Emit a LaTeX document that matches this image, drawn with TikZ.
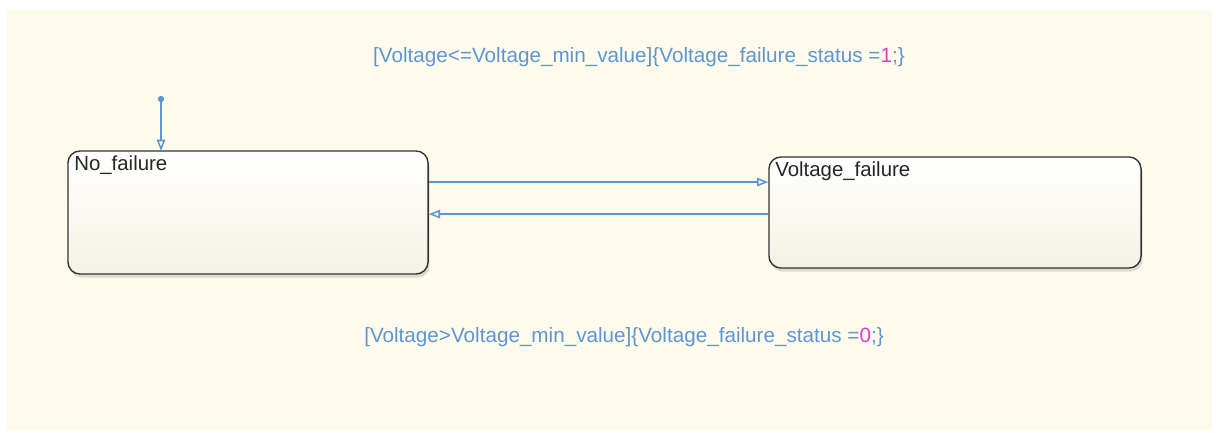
\documentclass[tikz,border=0pt]{standalone}
\usepackage{fontspec}
\setmainfont{Liberation Sans}
\usetikzlibrary{arrows.meta,shadows}

\definecolor{chartbg}{RGB}{254,251,236}
\definecolor{statebot}{RGB}{245,242,228}
\definecolor{transblue}{RGB}{95,150,210}
\definecolor{actmag}{RGB}{225,60,200}

\tikzset{
  state/.style={draw=black!80,line width=1pt,rounded corners=0.3cm,
    top color=white,bottom color=statebot,
    drop shadow={shadow xshift=0.04cm,shadow yshift=-0.09cm,opacity=0.25}},
  statename/.style={font=\fontsize{14.5}{16}\selectfont,text=black!85,
    inner sep=0pt,xshift=0.17cm,yshift=-0.14cm},
  trans/.style={draw=transblue,line width=1.1pt,
    -{Triangle[open,length=8pt,width=6pt]}},
  translabel/.style={font=\fontsize{14.7}{17}\selectfont,text=transblue},
  initdot/.style={circle,fill=transblue,inner sep=0pt,minimum size=4.5pt}
}

\begin{document}
\begin{tikzpicture}[x=0.025cm,y=-0.025cm]
  \useasboundingbox (0,0) rectangle (1216,433);
  \fill[chartbg] (7,10) rectangle (1212,430);
  \node[state,minimum width=9cm,minimum height=3.075cm,
        label={[statename,anchor=north west]north west:No\_failure}]
        (nf) at (248,212.5) {};
  \node[state,minimum width=9.3cm,minimum height=2.775cm,
        label={[statename,anchor=north west]north west:Voltage\_failure}]
        (vf) at (955,212.5) {};
  \node[initdot] (init) at (161,99) {};
  \draw[trans,shorten >=-0.5pt] (init) -- (init |- nf.north);
  \draw[trans] ([yshift=0.76cm]nf.east) -- ([yshift=0.76cm]vf.west);
  \draw[trans] ([yshift=-0.04cm]vf.west) -- ([yshift=-0.04cm]nf.east);
  \node[translabel] (up) at (639,57)
    {[Voltage<=Voltage\_min\_value]\{Voltage\_failure\_status =\textcolor{actmag}{1};\}};
  \node[translabel] (down) at (624,337)
    {[Voltage>Voltage\_min\_value]\{Voltage\_failure\_status =\textcolor{actmag}{0};\}};
\end{tikzpicture}
\end{document}
